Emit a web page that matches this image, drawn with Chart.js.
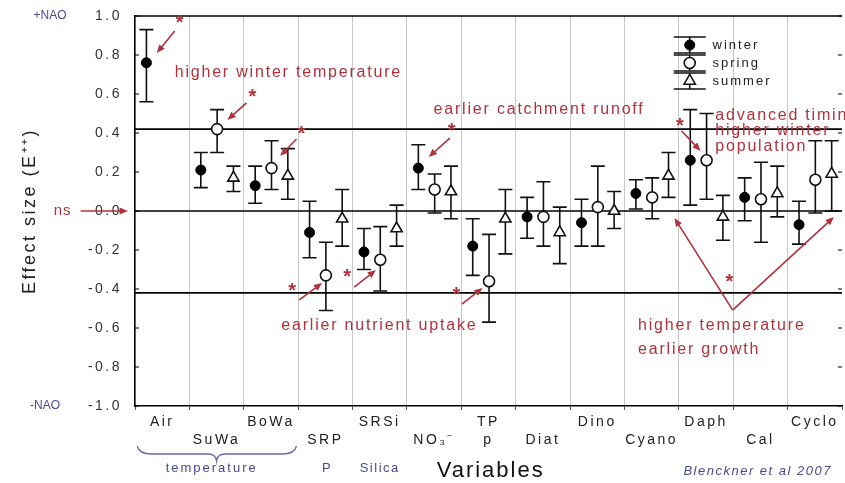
<!DOCTYPE html>
<html>
<head>
<meta charset="utf-8">
<script src="https://cdn.jsdelivr.net/npm/chart.js@4.4.1/dist/chart.umd.min.js"></script>
<style>
    html, body { margin: 0; padding: 0; background: #fff; overflow: hidden; }
    #wrap { width: 845px; height: 483px; position: relative; }
</style>
</head>
<body>
<div id="wrap"><canvas id="efeito"></canvas></div>
<script>
var variaveis = ['Air', 'SuWa', 'BoWa', 'SRP', 'SRSi', 'NO₃⁻', 'TP', 'Diat', 'Dino', 'Cyano', 'Daph', 'Cal', 'Cyclo'];
var linhaRotulo = [0, 1, 0, 1, 0, 1, 0, 1, 0, 1, 0, 1, 0];
var subRotulo = ['', '', '', '', '', '', 'p', '', '', '', '', '', ''];

var winter    = [0.76, 0.21, 0.13, -0.11, -0.21, 0.22, -0.18, -0.03, -0.06, 0.09, 0.26, 0.07, -0.07];
var winterMin = [0.56, 0.12, 0.04, -0.24, -0.30, 0.11, -0.33, -0.14, -0.18, 0.01, 0.03, -0.05, -0.17];
var winterMax = [0.93, 0.30, 0.23, 0.05, -0.09, 0.34, -0.04, 0.07, 0.06, 0.16, 0.52, 0.17, 0.05];

var spring    = [null, 0.42, 0.22, -0.33, -0.25, 0.11, -0.36, -0.03, 0.02, 0.07, 0.26, 0.06, 0.16];
var springMin = [null, 0.30, 0.11, -0.51, -0.41, -0.01, -0.57, -0.18, -0.18, -0.04, 0.06, -0.16, -0.01];
var springMax = [null, 0.52, 0.36, -0.16, -0.08, 0.19, -0.12, 0.15, 0.23, 0.17, 0.50, 0.25, 0.36];

var summer    = [null, 0.17, 0.18, -0.04, -0.09, 0.10, -0.04, -0.11, 0.00, 0.18, -0.03, 0.09, 0.19];
var summerMin = [null, 0.10, 0.06, -0.18, -0.18, -0.04, -0.22, -0.27, -0.09, 0.07, -0.15, -0.03, 0.00];
var summerMax = [null, 0.23, 0.32, 0.11, 0.03, 0.23, 0.11, 0.02, 0.10, 0.30, 0.08, 0.23, 0.36];

var estacoes = ['winter', 'spring', 'summer'];
var medias = [winter, spring, summer];
var minimos = [winterMin, springMin, summerMin];
var maximos = [winterMax, springMax, summerMax];
var deslocamento = [0.21, 0.51, 0.81];

var linhasRef = [0.42, 0, -0.42];

var vermelho = '#b0323c';
var azul = '#4a4a92';

// textos, estrelas e setas em coordenadas do grafico (categoria, efeito)
var textosVermelhos = [
    { t: 'higher winter temperature', x: 0.73, y: 0.71 },
    { t: 'earlier catchment runoff', x: 5.49, y: 0.52 },
    { t: 'advanced timing', x: 10.67, y: 0.49 },
    { t: 'higher winter', x: 10.67, y: 0.41 },
    { t: 'population', x: 10.67, y: 0.33 },
    { t: 'earlier nutrient uptake', x: 2.69, y: -0.59 },
    { t: 'higher temperature', x: 9.25, y: -0.59 },
    { t: 'earlier growth', x: 9.25, y: -0.71 }
];
var estrelas = [[0.82, 0.98], [2.16, 0.605], [3.06, 0.415], [5.82, 0.426], [10.02, 0.456],
    [2.89, -0.39], [3.90, -0.318], [5.91, -0.415], [10.93, -0.344]];
var setas = [
    [0.73, 0.923, 0.40, 0.81],
    [2.05, 0.554, 1.70, 0.467],
    [2.97, 0.369, 2.67, 0.282],
    [5.79, 0.374, 5.40, 0.277],
    [10.05, 0.41, 10.40, 0.308],
    [3.02, -0.456, 3.44, -0.369],
    [4.03, -0.39, 4.43, -0.303],
    [6.01, -0.477, 6.39, -0.395],
    [10.99, -0.508, 9.92, -0.036],
    [10.99, -0.508, 12.85, -0.031],
    [-1.0, 0, -0.13, 0]
];

function pontos(s) {
    var lista = [];
    for (let i = 0; i < variaveis.length; i++) {
        if (medias[s][i] != null) {
            lista.push({ x: i + deslocamento[s], y: medias[s][i] });
        }
    }
    return lista;
}

function rotuloX(value) {
    var i = Math.floor(value);
    if (Math.abs(value - i - 0.5) > 0.01 || i < 0 || i >= variaveis.length) return '';
    if (linhaRotulo[i] == 0) return [variaveis[i], subRotulo[i]];
    return ['', variaveis[i]];
}

function seta(ctx, x1, y1, x2, y2) {
    var ang = Math.atan2(y2 - y1, x2 - x1);
    ctx.beginPath();
    ctx.moveTo(x1, y1);
    ctx.lineTo(x2 - 6 * Math.cos(ang), y2 - 6 * Math.sin(ang));
    ctx.stroke();
    ctx.beginPath();
    ctx.moveTo(x2, y2);
    ctx.lineTo(x2 - 9 * Math.cos(ang - 0.4), y2 - 9 * Math.sin(ang - 0.4));
    ctx.lineTo(x2 - 9 * Math.cos(ang + 0.4), y2 - 9 * Math.sin(ang + 0.4));
    ctx.closePath();
    ctx.fill();
}

function texto(ctx, t, x, y, fonte, cor, alinhar, espaco) {
    ctx.font = fonte;
    ctx.fillStyle = cor;
    ctx.textAlign = alinhar;
    ctx.textBaseline = 'middle';
    ctx.letterSpacing = espaco;
    ctx.fillText(t, x, y);
}

var barrasErro = {
    id: 'barrasErro',
    beforeDraw: function (chart) {
        chart.ctx.letterSpacing = '2.5px';
    },
    beforeDatasetsDraw: function (chart) {
        var ctx = chart.ctx, sx = chart.scales.x, sy = chart.scales.y;
        ctx.save();
        ctx.strokeStyle = '#111';
        ctx.lineWidth = 1.6;
        for (let s = 0; s < 3; s++) {
            for (let i = 0; i < variaveis.length; i++) {
                if (medias[s][i] == null) continue;
                var x = sx.getPixelForValue(i + deslocamento[s]);
                var y1 = sy.getPixelForValue(minimos[s][i]);
                var y2 = sy.getPixelForValue(maximos[s][i]);
                ctx.beginPath();
                ctx.moveTo(x, y1); ctx.lineTo(x, y2);
                ctx.moveTo(x - 7, y1); ctx.lineTo(x + 7, y1);
                ctx.moveTo(x - 7, y2); ctx.lineTo(x + 7, y2);
                ctx.stroke();
            }
        }
        ctx.restore();
    },
    afterDraw: function (chart) {
        var ctx = chart.ctx, sx = chart.scales.x, sy = chart.scales.y, a = chart.chartArea;
        ctx.save();

        // borda de cima e marcas internas do eixo y
        ctx.strokeStyle = '#000';
        ctx.lineWidth = 1.5;
        ctx.beginPath();
        ctx.moveTo(a.left, a.top); ctx.lineTo(a.right, a.top);
        ctx.stroke();
        ctx.lineWidth = 1;
        for (let v = -1; v <= 1.001; v += 0.2) {
            var yy = sy.getPixelForValue(v);
            ctx.beginPath();
            ctx.moveTo(a.left, yy); ctx.lineTo(a.left + 4, yy);
            ctx.moveTo(a.right, yy); ctx.lineTo(a.right - 4, yy);
            ctx.stroke();
        }

        // anotacoes em vermelho
        ctx.strokeStyle = vermelho;
        ctx.fillStyle = vermelho;
        ctx.lineWidth = 1.6;
        for (let i = 0; i < setas.length; i++) {
            var s = setas[i];
            seta(ctx, sx.getPixelForValue(s[0]), sy.getPixelForValue(s[1]), sx.getPixelForValue(s[2]), sy.getPixelForValue(s[3]));
        }
        for (let i = 0; i < estrelas.length; i++) {
            texto(ctx, '*', sx.getPixelForValue(estrelas[i][0]), sy.getPixelForValue(estrelas[i][1]) + 4, 'bold 20px "Liberation Sans"', vermelho, 'center', '0px');
        }
        for (let i = 0; i < textosVermelhos.length; i++) {
            var tv = textosVermelhos[i];
            texto(ctx, tv.t, sx.getPixelForValue(tv.x), sy.getPixelForValue(tv.y), '16px "Liberation Sans"', vermelho, 'left', '1.8px');
        }
        texto(ctx, 'ns', sx.getPixelForValue(-1.33), sy.getPixelForValue(0), '15px "Liberation Sans"', vermelho, 'center', '1px');

        // +NAO / -NAO e titulo do eixo y
        texto(ctx, '+NAO', 50, sy.getPixelForValue(1), '12px "Liberation Sans"', azul, 'center', '0px');
        texto(ctx, '-NAO', 45, sy.getPixelForValue(-1), '12px "Liberation Sans"', azul, 'center', '0px');
        ctx.save();
        ctx.translate(30, sy.getPixelForValue(0));
        ctx.rotate(-Math.PI / 2);
        texto(ctx, 'Effect size (E⁺⁺)', 0, 0, '18px "Liberation Sans"', '#222', 'center', '2.5px');
        ctx.restore();

        // chave sob as temperaturas
        var b = a.bottom;
        var xa = sx.getPixelForValue(0.04), xm = sx.getPixelForValue(1.5), xb = sx.getPixelForValue(2.97);
        ctx.strokeStyle = '#6a6aa8';
        ctx.lineWidth = 1.3;
        ctx.beginPath();
        ctx.moveTo(xa, b + 40);
        ctx.quadraticCurveTo(xa + 2, b + 48, xa + 14, b + 48);
        ctx.lineTo(xm - 8, b + 48);
        ctx.quadraticCurveTo(xm - 1, b + 48, xm, b + 55);
        ctx.quadraticCurveTo(xm + 1, b + 48, xm + 8, b + 48);
        ctx.lineTo(xb - 14, b + 48);
        ctx.quadraticCurveTo(xb - 2, b + 48, xb, b + 40);
        ctx.stroke();

        texto(ctx, 'temperature', sx.getPixelForValue(1.41), b + 62, '13px "Liberation Sans"', azul, 'center', '2px');
        texto(ctx, 'P', sx.getPixelForValue(3.52), b + 62, '13px "Liberation Sans"', azul, 'center', '0px');
        texto(ctx, 'Silica', sx.getPixelForValue(4.5), b + 62, '13px "Liberation Sans"', azul, 'center', '1.5px');
        texto(ctx, 'Variables', sx.getPixelForValue(6.54), b + 65, '22px "Liberation Sans"', '#111', 'center', '2px');
        texto(ctx, 'Blenckner et al 2007', sx.getPixelForValue(11.45), b + 65, 'italic 13px "Liberation Sans"', azul, 'center', '1.5px');

        // legenda
        var lx = sx.getPixelForValue(10.2), tx = sx.getPixelForValue(10.62);
        var ly = [sy.getPixelForValue(0.851), sy.getPixelForValue(0.759), sy.getPixelForValue(0.667)];
        ctx.lineWidth = 1.6;
        for (let s = 0; s < 3; s++) {
            ctx.strokeStyle = '#111';
            ctx.beginPath();
            ctx.moveTo(lx, ly[s] - 8); ctx.lineTo(lx, ly[s] + 8);
            ctx.moveTo(lx - 16, ly[s] - 8); ctx.lineTo(lx + 16, ly[s] - 8);
            ctx.moveTo(lx - 16, ly[s] + 8); ctx.lineTo(lx + 16, ly[s] + 8);
            ctx.stroke();
            var ds = chart.data.datasets[s];
            ctx.fillStyle = ds.backgroundColor;
            ctx.strokeStyle = ds.borderColor;
            ctx.lineWidth = ds.borderWidth;
            Chart.helpers.drawPoint(ctx, { pointStyle: ds.pointStyle, radius: ds.pointRadius, borderWidth: ds.borderWidth, rotation: 0 }, lx, ly[s]);
            texto(ctx, estacoes[s], tx, ly[s], '13px "Liberation Sans"', '#222', 'left', '2px');
            ctx.lineWidth = 1.6;
        }

        ctx.letterSpacing = '0px';
        ctx.restore();
        ctx.letterSpacing = '0px';
    }
};

var conjuntos = [];
var estilos = [
    { pointStyle: 'circle', pointRadius: 5, backgroundColor: '#000', borderColor: '#000', borderWidth: 1 },
    { pointStyle: 'circle', pointRadius: 5.5, backgroundColor: '#fff', borderColor: '#111', borderWidth: 1.6 },
    { pointStyle: 'triangle', pointRadius: 6.5, backgroundColor: '#fff', borderColor: '#111', borderWidth: 1.6 }
];
for (let s = 0; s < 3; s++) {
    conjuntos.push({
        label: estacoes[s],
        data: pontos(s),
        showLine: false,
        pointStyle: estilos[s].pointStyle,
        pointRadius: estilos[s].pointRadius,
        backgroundColor: estilos[s].backgroundColor,
        borderColor: estilos[s].borderColor,
        borderWidth: estilos[s].borderWidth,
        pointBorderWidth: estilos[s].borderWidth,
        order: 0
    });
}
for (let k = 0; k < linhasRef.length; k++) {
    conjuntos.push({
        label: 'ref' + k,
        data: [{ x: 0, y: linhasRef[k] }, { x: variaveis.length, y: linhasRef[k] }],
        showLine: true,
        pointRadius: 0,
        borderColor: '#000',
        borderWidth: 1.6,
        order: 10
    });
}

var graphEfeito = new Chart(document.getElementById('efeito'), {
    type: 'scatter',
    data: { datasets: conjuntos },
    options: {
        responsive: true,
        maintainAspectRatio: false,
        animation: false,
        layout: { autoPadding: false, padding: { top: 16, right: 0, bottom: 0, left: 0 } },
        plugins: {
            legend: { display: false },
            tooltip: { enabled: false }
        },
        scales: {
            x: {
                type: 'linear',
                min: 0,
                max: variaveis.length,
                afterBuildTicks: function (scale) {
                    var t = [];
                    for (let k = 0; k <= variaveis.length * 2; k++) t.push({ value: k / 2 });
                    scale.ticks = t;
                },
                afterFit: function (scale) { scale.height = 77; },
                grid: {
                    color: function (c) {
                        if (!c.tick || c.tick.value % 1 !== 0 || c.tick.value == variaveis.length) return 'rgba(0,0,0,0)';
                        return '#c8c8c8';
                    },
                    tickColor: function (c) { return c.tick && c.tick.value % 1 === 0 ? '#555' : 'rgba(0,0,0,0)'; },
                    tickLength: 4,
                    lineWidth: 1
                },
                border: { display: true, color: '#000', width: 1.5 },
                ticks: {
                    autoSkip: false,
                    maxRotation: 0,
                    padding: 3,
                    color: '#222',
                    font: { family: '"Liberation Sans"', size: 14, lineHeight: 1.3 },
                    callback: rotuloX
                }
            },
            y: {
                min: -1,
                max: 1,
                afterFit: function (scale) { scale.width = 135; },
                grid: { display: false },
                border: { display: true, color: '#000', width: 1.5 },
                ticks: {
                    stepSize: 0.2,
                    padding: 5,
                    color: '#333',
                    font: { family: '"Liberation Sans"', size: 14 },
                    callback: function (value) { return Number(value).toFixed(1); }
                }
            }
        }
    },
    plugins: [barrasErro]
});
</script>
</body>
</html>
